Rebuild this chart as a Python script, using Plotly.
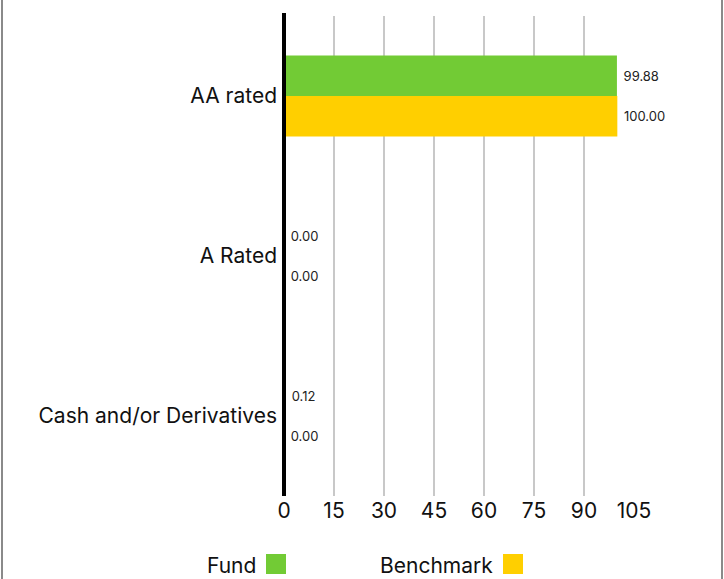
import plotly.graph_objects as go

categories = ["AA rated", "A Rated", "Cash and/or Derivatives"]
fund = [99.88, 0.00, 0.12]
benchmark = [100.00, 0.00, 0.00]
x_ticks = [0, 15, 30, 45, 60, 75, 90, 105]
series_names = ["Fund", "Benchmark"]
colors = ["#72CB35", "#FFCF00"]

W, H = 724, 579
ML, MR, MT, MB = 284, 90, 16, 83
PW = W - ML - MR
PH = H - MT - MB
FONT = "Inter, Noto Sans, sans-serif"


def px(p):
    return (p - ML) / PW


def py(p):
    return (H - MB - p) / PH


fig = go.Figure()
for name, vals, col in zip(series_names, [fund, benchmark], colors):
    fig.add_trace(go.Bar(
        y=categories, x=vals, orientation="h", name=name,
        marker=dict(color=col, line=dict(width=0)),
        text=["\u00a0" + f"{v:.2f}" for v in vals], textposition="outside",
        textfont=dict(size=13, color="#222", family=FONT),
        cliponaxis=False, showlegend=False,
    ))

fig.update_layout(
    width=W, height=H,
    margin=dict(l=ML, r=MR, t=MT, b=MB),
    paper_bgcolor="white", plot_bgcolor="white",
    barmode="group", bargap=0.494, bargroupgap=0,
    font=dict(family=FONT, color="#111"),
    xaxis=dict(range=[0, 105], tickvals=x_ticks, showgrid=True,
               gridcolor="#c8c8c8", gridwidth=2, zeroline=False,
               showline=False, tickfont=dict(size=21, color="#111"),
               ticks="", fixedrange=True),
    yaxis=dict(autorange="reversed", showline=False, showgrid=False,
               ticks="", tickfont=dict(size=21, color="#111"),
               ticklabelstandoff=6, fixedrange=True),
)

# zero axis line (on top of bars)
fig.add_shape(type="line", xref="paper", yref="paper", x0=0, x1=0,
              y0=py(496), y1=py(13), line=dict(color="black", width=4),
              layer="above")

# legend (text before swatch)
legend_items = [("Fund", 258, 266, colors[0]), ("Benchmark", 495, 503, colors[1])]
for label, tx, sx, col in legend_items:
    fig.add_annotation(text=label, xref="paper", yref="paper", x=px(tx), y=py(565),
                       xanchor="right", yanchor="middle", showarrow=False,
                       font=dict(size=21, color="#111", family=FONT))
    fig.add_shape(type="rect", xref="paper", yref="paper",
                  x0=px(sx), x1=px(sx + 20), y0=py(574), y1=py(554),
                  fillcolor=col, line=dict(width=0))

# side borders
for bx in [2, 722]:
    fig.add_shape(type="line", xref="paper", yref="paper",
                  x0=px(bx), x1=px(bx), y0=py(579), y1=py(0),
                  line=dict(color="#8a8a8a", width=2))

fig.write_html("out.html", config={"displayModeBar": False},
               post_script="document.body.style.margin='0';document.body.style.overflow='hidden';")
